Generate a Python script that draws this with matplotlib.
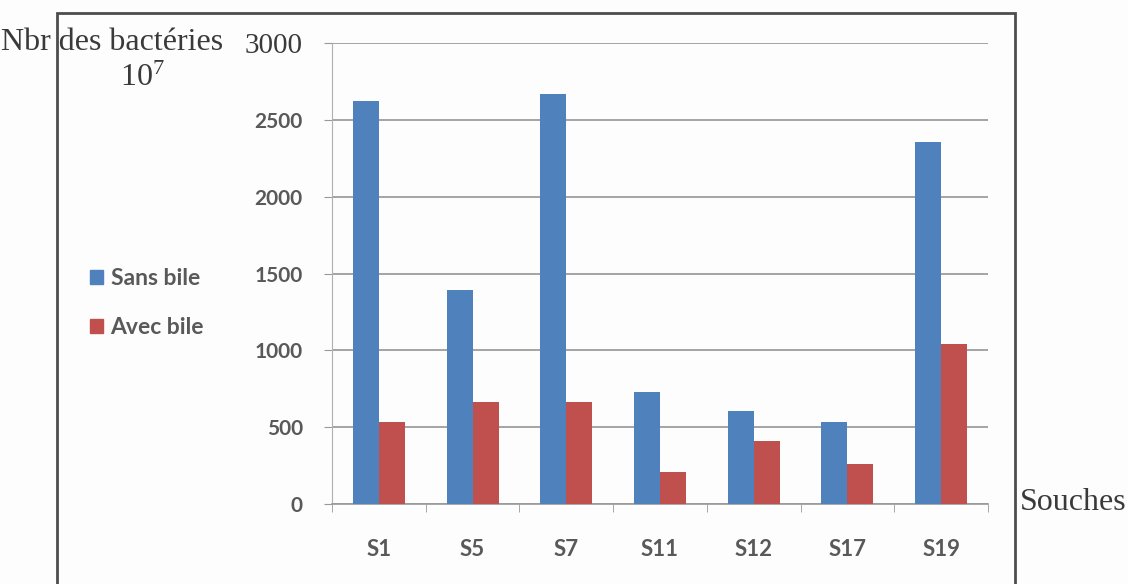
import matplotlib
matplotlib.use("Agg")
import matplotlib.pyplot as plt
import numpy as np
from matplotlib.patches import Rectangle, Patch

categories = ["S1", "S5", "S7", "S11", "S12", "S17", "S19"]
sans_bile = [2620, 1395, 2665, 728, 603, 535, 2354]
avec_bile = [535, 662, 665, 205, 410, 260, 1043]
series_names = ["Sans bile", "Avec bile"]
yticks = [0, 500, 1000, 1500, 2000, 2500, 3000]

BLUE = "#4F81BD"
RED = "#C0504D"
GRAY = "#595959"
SERIF = "Liberation Serif"
SANS = "Lato"

plt.rcParams["mathtext.fontset"] = "custom"
plt.rcParams["mathtext.rm"] = SERIF
plt.rcParams["mathtext.it"] = SERIF + ":italic"

W, H = 1128, 584
fig = plt.figure(figsize=(W / 100, H / 100), dpi=100, facecolor="#fdfdfd")
ax = fig.add_axes([332 / W, 1 - 504 / H, (988 - 332) / W, (504 - 43) / H])
ax.set_facecolor("#fdfdfd")

x = np.arange(len(categories))
bw = 0.277
ax.bar(x - bw / 2, sans_bile, width=bw, color=BLUE, label=series_names[0], zorder=3)
ax.bar(x + bw / 2, avec_bile, width=bw, color=RED, label=series_names[1], zorder=3)

ax.set_xlim(-0.5, len(categories) - 0.5)
ax.set_ylim(0, 3000)
ax.set_yticks(yticks)
ax.set_yticklabels([str(v) for v in yticks])
ax.yaxis.grid(True, color="#8c8c8c", linewidth=1.1, zorder=0)
ax.set_xticks(x)
ax.set_xticklabels(categories)
ax.set_xticks(np.arange(len(categories) + 1) - 0.5, minor=True)
ax.tick_params(axis="x", which="major", length=0, pad=25)
ax.tick_params(axis="x", which="minor", length=6, color="#999999", direction="out")
ax.tick_params(axis="y", length=6, color="#999999", pad=15)
for lab in ax.get_xticklabels():
    lab.set_fontfamily(SANS)
    lab.set_fontweight("bold")
    lab.set_fontsize(16)
    lab.set_color(GRAY)
for lab in ax.get_yticklabels():
    lab.set_fontfamily(SANS)
    lab.set_fontweight("bold")
    lab.set_fontsize(15)
    lab.set_color(GRAY)
top = ax.get_yticklabels()[-1]
top.set_fontfamily(SERIF)
top.set_fontweight("normal")
top.set_fontsize(21)
top.set_color("#3a3a3a")

for s in ["top", "right"]:
    ax.spines[s].set_visible(False)
ax.spines["left"].set_color("#b0b0b0")
ax.spines["bottom"].set_color("#999999")
ax.spines["bottom"].set_linewidth(1.2)

fig.patches.append(Rectangle((57 / W, -0.02), (1015 - 57) / W, 1.02 - 13 / H,
                             transform=fig.transFigure, fill=False,
                             edgecolor="#4d4d4d", linewidth=2.0))

fig.text(1 / W, 1 - 42 / H, "Nbr des bactéries", fontfamily=SERIF, fontsize=23,
         color="#3a3a3a", va="center", ha="left")
fig.text(142 / W, 1 - 77 / H, r"$\mathrm{10^{7}}$", fontsize=23,
         color="#3a3a3a", va="center", ha="center")
fig.text(1020 / W, 1 - 503 / H, "Souches", fontfamily=SERIF, fontsize=23,
         color="#3a3a3a", va="center", ha="left")

handles = [Patch(color=BLUE), Patch(color=RED)]
leg = fig.legend(handles, series_names, loc="center left",
                 bbox_to_anchor=(90 / W, 1 - 303 / H), frameon=False,
                 borderpad=0, borderaxespad=0,
                 handlelength=0.55, handleheight=0.55, handletextpad=0.35,
                 labelspacing=1.2, prop={"family": SANS, "weight": "bold", "size": 16.5})
for t in leg.get_texts():
    t.set_color(GRAY)

fig.savefig("out.png", dpi=100, facecolor=fig.get_facecolor())
